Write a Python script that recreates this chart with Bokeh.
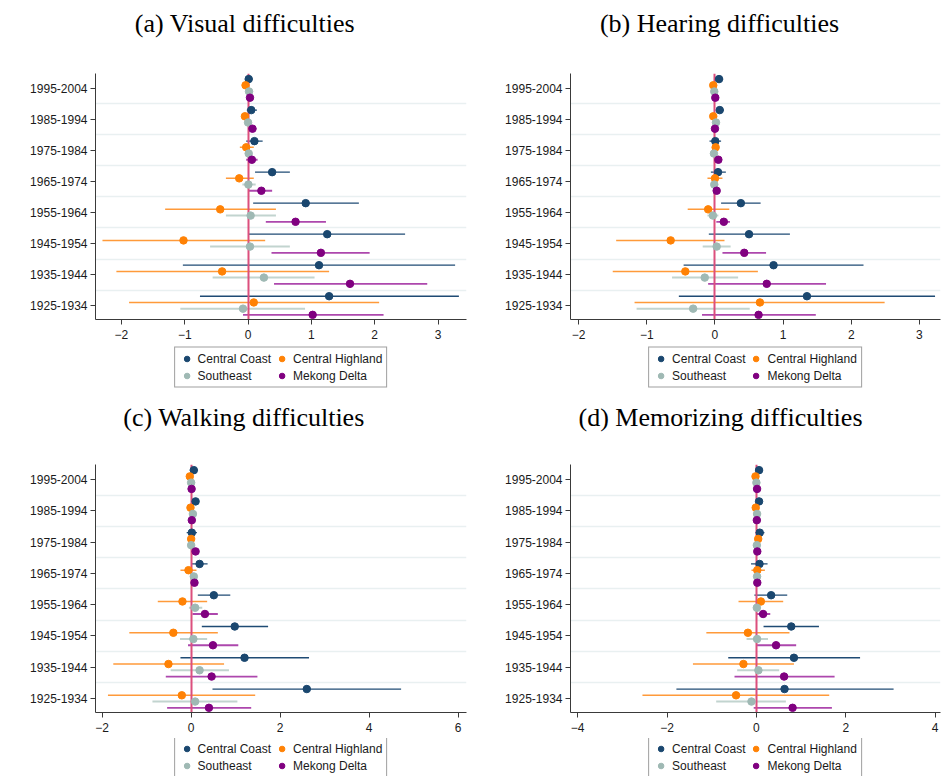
from bokeh.plotting import figure
from bokeh.models import (ColumnDataSource, FixedTicker, Legend, LegendItem,
                          Label, Range1d)
from bokeh.layouts import column, row
from bokeh.embed import file_html
from bokeh.resources import INLINE

# Birth cohorts, listed top to bottom
cohorts = ["1995-2004", "1985-1994", "1975-1984", "1965-1974",
           "1955-1964", "1945-1954", "1935-1944", "1925-1934"]
regions = ["Central Coast", "Central Highland", "Southeast", "Mekong Delta"]

# (a) Visual difficulties: point estimates and 95% CI bounds
visual_coast = [0.01, 0.05, 0.10, 0.38, 0.91, 1.25, 1.12, 1.28]
visual_coast_lo = [-0.04, -0.02, -0.03, 0.11, 0.08, 0.01, -1.03, -0.76]
visual_coast_hi = [0.07, 0.14, 0.23, 0.66, 1.75, 2.48, 3.27, 3.33]
visual_highland = [-0.04, -0.05, -0.03, -0.14, -0.44, -1.02, -0.41, 0.09]
visual_highland_lo = [-0.08, -0.09, -0.13, -0.35, -1.31, -2.30, -2.08, -1.88]
visual_highland_hi = [0.00, -0.01, 0.09, 0.09, 0.44, 0.27, 1.28, 2.07]
visual_southeast = [0.015, 0.0, 0.01, 0.005, 0.04, 0.03, 0.25, -0.08]
visual_southeast_lo = [-0.02, -0.03, -0.03, -0.09, -0.35, -0.60, -0.56, -1.07]
visual_southeast_hi = [0.05, 0.03, 0.05, 0.12, 0.44, 0.66, 1.05, 0.90]
visual_mekong = [0.03, 0.07, 0.06, 0.21, 0.75, 1.15, 1.61, 1.02]
visual_mekong_lo = [0.0, 0.03, -0.03, 0.01, 0.28, 0.37, 0.41, -0.08]
visual_mekong_hi = [0.06, 0.13, 0.15, 0.38, 1.23, 1.92, 2.83, 2.14]

# (b) Hearing difficulties
hearing_coast = [0.06, 0.07, 0.005, 0.045, 0.38, 0.50, 0.86, 1.35]
hearing_coast_lo = [0.01, 0.02, -0.08, -0.06, 0.09, -0.09, -0.46, -0.53]
hearing_coast_hi = [0.12, 0.13, 0.09, 0.16, 0.67, 1.10, 2.18, 3.23]
hearing_highland = [-0.025, -0.025, 0.01, 0.0, -0.10, -0.65, -0.435, 0.66]
hearing_highland_lo = [-0.06, -0.06, -0.04, -0.11, -0.40, -1.45, -1.50, -1.18]
hearing_highland_hi = [0.01, 0.01, 0.06, 0.11, 0.21, 0.14, 0.63, 2.49]
hearing_southeast = [-0.01, 0.015, -0.015, -0.01, -0.03, 0.025, -0.15, -0.32]
hearing_southeast_lo = [-0.04, -0.02, -0.05, -0.05, -0.11, -0.18, -0.63, -1.15]
hearing_southeast_hi = [0.02, 0.05, 0.02, 0.03, 0.05, 0.23, 0.34, 0.51]
hearing_mekong = [0.005, 0.0, 0.05, 0.025, 0.13, 0.43, 0.76, 0.64]
hearing_mekong_lo = [-0.03, -0.03, 0.01, -0.01, 0.02, 0.11, -0.10, -0.19]
hearing_mekong_hi = [0.04, 0.03, 0.09, 0.06, 0.22, 0.75, 1.63, 1.48]

# (c) Walking difficulties
walking_coast = [0.06, 0.10, 0.015, 0.19, 0.51, 0.98, 1.20, 2.60]
walking_coast_lo = [-0.03, 0.04, -0.10, 0.015, 0.15, 0.24, -0.24, 0.48]
walking_coast_hi = [0.15, 0.17, 0.13, 0.37, 0.88, 1.73, 2.65, 4.72]
walking_highland = [-0.03, -0.015, 0.0, -0.06, -0.195, -0.40, -0.51, -0.21]
walking_highland_lo = [-0.07, -0.06, -0.07, -0.24, -0.75, -1.39, -1.75, -1.87]
walking_highland_hi = [0.01, 0.03, 0.07, 0.12, 0.36, 0.60, 0.74, 1.44]
walking_southeast = [0.0, 0.04, 0.0, 0.06, 0.09, 0.05, 0.19, 0.09]
walking_southeast_lo = [-0.04, 0.0, -0.04, 0.01, -0.05, -0.25, -0.46, -0.87]
walking_southeast_hi = [0.04, 0.08, 0.04, 0.11, 0.25, 0.36, 0.85, 1.04]
walking_mekong = [0.01, 0.015, 0.10, 0.075, 0.31, 0.49, 0.46, 0.40]
walking_mekong_lo = [-0.03, -0.02, 0.06, 0.03, 0.03, -0.07, -0.57, -0.54]
walking_mekong_hi = [0.05, 0.05, 0.14, 0.12, 0.60, 1.06, 1.49, 1.35]

# (d) Memorizing difficulties
memory_coast = [0.06, 0.06, 0.075, 0.07, 0.33, 0.78, 0.84, 0.63]
memory_coast_lo = [0.02, 0.02, -0.02, -0.12, -0.045, 0.16, -0.63, -1.79]
memory_coast_hi = [0.10, 0.10, 0.18, 0.25, 0.69, 1.40, 2.32, 3.07]
memory_highland = [-0.02, -0.015, 0.04, 0.02, 0.10, -0.19, -0.29, -0.455]
memory_highland_lo = [-0.06, -0.05, 0.0, -0.11, -0.40, -1.12, -1.42, -2.55]
memory_highland_hi = [0.02, 0.02, 0.08, 0.19, 0.60, 0.74, 0.84, 1.63]
memory_southeast = [0.0, 0.015, 0.01, 0.015, 0.01, 0.015, 0.045, -0.11]
memory_southeast_lo = [-0.03, -0.02, -0.02, -0.02, -0.06, -0.22, -0.43, -0.90]
memory_southeast_hi = [0.03, 0.05, 0.04, 0.05, 0.09, 0.26, 0.51, 0.66]
memory_mekong = [0.015, 0.01, 0.02, 0.02, 0.15, 0.44, 0.62, 0.81]
memory_mekong_lo = [-0.02, -0.02, -0.01, -0.01, 0.0, 0.015, -0.49, -0.06]
memory_mekong_hi = [0.05, 0.04, 0.05, 0.05, 0.31, 0.89, 1.75, 1.69]

visual_ticks = [-2, -1, 0, 1, 2, 3]
hearing_ticks = [-2, -1, 0, 1, 2, 3]
walking_ticks = [-2, 0, 2, 4, 6]
memory_ticks = [-4, -2, 0, 2, 4]

DOT_COLORS = ["#1a476f", "#ff8205", "#9fb9b4", "#800080"]
CI_COLORS = ["#1f4b74", "#ff9a3a", "#c2d4cf", "#ad47ad"]
CI_WIDTHS = [1.3, 1.5, 2.0, 1.8]
OFFSETS = [0.3, 0.1, -0.1, -0.3]
SANS = "Liberation Sans"
SERIF = "Liberation Serif"


def blank_strip(width, height, left, right):
    """Axis-free strip; its frame lines up with the panel frame above/below,
    so the x range is set to run in the panel's own pixel columns."""
    s = figure(width=width, height=height, output_backend="svg",
               toolbar_location=None, x_range=Range1d(left, width - right),
               y_range=Range1d(0, height), x_axis_location=None,
               y_axis_location=None, min_border_left=left,
               min_border_right=right, min_border_top=0, min_border_bottom=0)
    s.outline_line_color = None
    s.xgrid.visible = False
    s.ygrid.visible = False
    s.border_fill_color = "white"
    s.background_fill_color = "white"
    return s


def make_title(text, width, height, left, right, cx, cy):
    s = blank_strip(width, height, left, right)
    s.add_layout(Label(x=cx, y=height - cy, text=text, text_align="center",
                       text_baseline="middle", text_font=SERIF,
                       text_font_size="26px", text_color="black"))
    return s


def make_panel(series, xlim, ticks, frame_w, frame_h, left, right, top):
    n = len(cohorts)
    base = [n - 1 - i for i in range(n)]
    p = figure(frame_width=frame_w, frame_height=frame_h, output_backend="svg",
               toolbar_location=None, x_range=Range1d(*xlim),
               y_range=Range1d(-0.45, n - 0.52),
               min_border_left=left, min_border_right=right,
               min_border_top=top, min_border_bottom=26)
    p.outline_line_color = None
    p.background_fill_color = "white"
    p.border_fill_color = "white"
    p.xgrid.visible = False
    p.ygrid.visible = False

    # faint separators between cohort blocks
    p.hspan(y=[b + 0.5 for b in base[1:]], line_color="#e9f0f1", line_width=1.5)

    ci_sources = []
    for k, (est, lo, hi) in enumerate(series):
        ys = [b + OFFSETS[k] for b in base]
        src = ColumnDataSource(dict(y=ys, est=est, lo=lo, hi=hi))
        ci_sources.append(src)
        p.segment(x0="lo", x1="hi", y0="y", y1="y", source=src,
                  line_color=CI_COLORS[k], line_width=CI_WIDTHS[k])
    p.vspan(x=[0], line_color="#dc4f7d", line_width=2)
    for k, src in enumerate(ci_sources):
        p.scatter(x="est", y="y", source=src, size=7.5, marker="circle",
                  fill_color=DOT_COLORS[k], line_color=DOT_COLORS[k])

    p.xaxis.ticker = FixedTicker(ticks=ticks)
    p.yaxis.ticker = FixedTicker(ticks=base)
    p.yaxis.major_label_overrides = {b: c for b, c in zip(base, cohorts)}
    for ax in (p.xaxis[0], p.yaxis[0]):
        ax.axis_line_color = "#3a3a3a"
        ax.major_tick_line_color = "#3a3a3a"
        ax.minor_tick_line_color = None
        ax.major_tick_out = 5
        ax.major_tick_in = 0
        ax.major_label_text_font = SANS
        ax.major_label_text_font_size = "12px"
        ax.major_label_text_color = "#1a1a1a"
    p.yaxis.major_label_standoff = 3
    p.xaxis.major_label_standoff = 5
    return p


def make_key(width, height, left, right):
    """Strip below a panel holding the region key."""
    k = blank_strip(width, height, left, right)
    handles = {}
    for idx, name in enumerate(regions):
        # a single swatch point parked outside the strip's visible range
        handles[name] = k.scatter(x=[-500], y=[-500], size=7.5,
                                  marker="circle",
                                  fill_color=DOT_COLORS[idx],
                                  line_color=DOT_COLORS[idx])
    # columns fill top to bottom: Coast/Southeast, then Highland/Mekong
    order = ["Central Coast", "Southeast", "Central Highland", "Mekong Delta"]
    legend = Legend(items=[LegendItem(label=nm, renderers=[handles[nm]])
                           for nm in order],
                    ncols=2, location="center")
    legend.label_text_font = SANS
    legend.label_text_font_size = "12px"
    legend.label_text_color = "#1a1a1a"
    legend.label_height = 14
    legend.glyph_height = 14
    legend.glyph_width = 15
    legend.label_standoff = 4
    legend.spacing = 3
    legend.padding = 4
    legend.margin = 0
    legend.border_line_color = "#404040"
    legend.border_line_width = 1
    legend.background_fill_color = "white"
    legend.background_fill_alpha = 1
    k.add_layout(legend)
    return k


pa = make_panel([(visual_coast, visual_coast_lo, visual_coast_hi),
                 (visual_highland, visual_highland_lo, visual_highland_hi),
                 (visual_southeast, visual_southeast_lo, visual_southeast_hi),
                 (visual_mekong, visual_mekong_lo, visual_mekong_hi)],
                (-2.41, 3.45), visual_ticks, 371, 246, 95, 4, 23)
pb = make_panel([(hearing_coast, hearing_coast_lo, hearing_coast_hi),
                 (hearing_highland, hearing_highland_lo, hearing_highland_hi),
                 (hearing_southeast, hearing_southeast_lo, hearing_southeast_hi),
                 (hearing_mekong, hearing_mekong_lo, hearing_mekong_hi)],
                (-2.12, 3.31), hearing_ticks, 370, 246, 100, 1, 23)
pc = make_panel([(walking_coast, walking_coast_lo, walking_coast_hi),
                 (walking_highland, walking_highland_lo, walking_highland_hi),
                 (walking_southeast, walking_southeast_lo, walking_southeast_hi),
                 (walking_mekong, walking_mekong_lo, walking_mekong_hi)],
                (-2.15, 6.19), walking_ticks, 371, 248, 95, 4, 20)
pd_ = make_panel([(memory_coast, memory_coast_lo, memory_coast_hi),
                  (memory_highland, memory_highland_lo, memory_highland_hi),
                  (memory_southeast, memory_southeast_lo, memory_southeast_hi),
                  (memory_mekong, memory_mekong_lo, memory_mekong_hi)],
                 (-4.16, 4.12), memory_ticks, 370, 248, 100, 1, 20)

ta = make_title("(a) Visual difficulties", 470, 50, 95, 4, 244.5, 23)
tb = make_title("(b) Hearing difficulties", 471, 50, 100, 1, 249, 23)
tc = make_title("(c) Walking difficulties", 470, 56, 95, 4, 243.5, 29)
td = make_title("(d) Memorizing difficulties", 471, 56, 100, 1, 250, 29)

ka = make_key(470, 43, 95, 4)
kb = make_key(471, 43, 100, 1)
kc = make_key(470, 38, 95, 4)
kd = make_key(471, 38, 100, 1)

page = column(row(column(ta, pa, ka), column(tb, pb, kb)),
              row(column(tc, pc, kc), column(td, pd_, kd)))

open("out.html", "w").write(file_html(page, INLINE))
